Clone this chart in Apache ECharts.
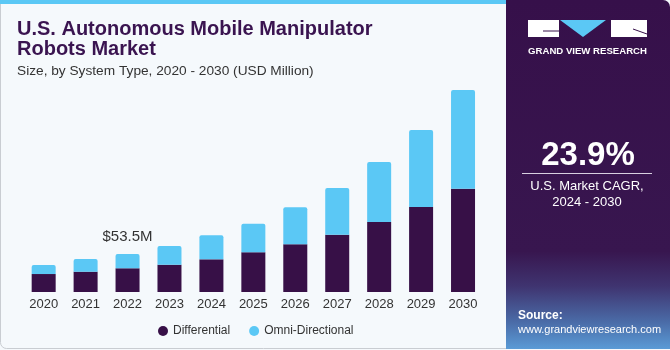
<!DOCTYPE html>
<html>
<head>
<meta charset="utf-8">
<script src="https://cdn.jsdelivr.net/npm/echarts@6/dist/echarts.min.js"></script>
<style>
html,body{margin:0;padding:0;background:#f5f9fc;}
#chart{width:670px;height:350px;}
</style>
</head>
<body>
<div id="chart"></div>
<script>
const years = ['2020','2021','2022','2023','2024','2025','2026','2027','2028','2029','2030'];
const differential = [25.3, 28.6, 33.4, 38.4, 46.0, 55.9, 67.2, 80.7, 98.6, 119.7, 145.5];
const omniDirectional = [12.7, 17.9, 20.1, 26.4, 33.8, 40.3, 52.0, 65.7, 84.4, 108.4, 138.9];
const annotationIndex = 2;
const annotationText = '$53.5M';
const titleLines = ['U.S. Autonomous Mobile Manipulator', 'Robots Market'];
const subtitle = 'Size, by System Type, 2020 - 2030 (USD Million)';
const cagr = '23.9%';
const cagrLabel = ['U.S. Market CAGR,', '2024 - 2030'];

const chart = echarts.init(document.getElementById('chart'), null, {renderer: 'canvas'});
const FONT = '"Liberation Sans", Arial, sans-serif';
const PURPLE = '#371047';
const BLUE = '#5bc8f5';

chart.setOption({
  backgroundColor: '#f5f9fc',
  animation: false,
  grid: {left: 22.7, right: 186, top: 79, bottom: 58},
  xAxis: {
    type: 'category',
    data: years,
    axisLine: {show: false},
    axisTick: {show: false},
    axisLabel: {color: '#333', fontSize: 13, fontFamily: FONT, margin: 6}
  },
  yAxis: {
    type: 'value', min: 0, max: 300,
    show: false
  },
  legend: {
    data: ['Differential', 'Omni-Directional'],
    left: 153, top: 320,
    icon: 'circle', itemWidth: 10, itemHeight: 10, itemGap: 19,
    textStyle: {color: '#333', fontSize: 12, fontFamily: FONT}
  },
  series: [
    {
      name: 'Differential', type: 'bar', stack: 'total', barWidth: 24,
      data: differential,
      itemStyle: {color: PURPLE}
    },
    {
      name: 'Omni-Directional', type: 'bar', stack: 'total', barWidth: 24,
      data: omniDirectional.map((v, i) => i === annotationIndex ? {
        value: v,
        label: {show: true, position: 'top', distance: 10, formatter: annotationText,
                color: '#333', fontSize: 15, fontFamily: FONT}
      } : v),
      itemStyle: {color: BLUE, borderRadius: [2, 2, 0, 0]}
    }
  ],
  graphic: [
    {type: 'rect', z: -10, shape: {x: 0.5, y: 0, width: 520, height: 348.5, r: [0, 0, 0, 6]},
     style: {fill: '#f5f9fc', stroke: '#c9cdd2', lineWidth: 1}},
    {type: 'rect', z: 10, shape: {x: 0, y: 0, width: 506, height: 4}, style: {fill: BLUE}},
    {type: 'rect', z: 10, shape: {x: 506, y: 0, width: 164, height: 349, r: [0, 7, 0, 0]},
     style: {fill: new echarts.graphic.LinearGradient(0, 0, 0, 1, [
       {offset: 0, color: '#36104a'},
       {offset: 0.72, color: '#38164f'},
       {offset: 0.82, color: '#3f3470'},
       {offset: 0.92, color: '#4a6aa6'},
       {offset: 1, color: '#5a9bd6'}
     ])}},
    {type: 'rect', z: 11, shape: {x: 528, y: 20, width: 31, height: 17}, style: {fill: '#fff'}},
    {type: 'polygon', z: 11, shape: {points: [[560, 20], [606, 20], [583, 37]]}, style: {fill: BLUE}},
    {type: 'rect', z: 11, shape: {x: 611, y: 20, width: 36, height: 17}, style: {fill: '#fff'}},
    {type: 'line', z: 12, shape: {x1: 543, y1: 31, x2: 559, y2: 31}, style: {stroke: '#36104a', lineWidth: 1}},
    {type: 'line', z: 12, shape: {x1: 633, y1: 29, x2: 647, y2: 34}, style: {stroke: '#36104a', lineWidth: 1}},
    {type: 'text', z: 11, x: 587.5, y: 51, style: {text: 'GRAND VIEW RESEARCH', fill: '#fff',
      font: 'bold 9.6px ' + FONT, align: 'center', verticalAlign: 'middle'}},
    {type: 'text', z: 11, x: 588, y: 156, style: {text: cagr, fill: '#fff',
      font: 'bold 33px ' + FONT, align: 'center', verticalAlign: 'middle'}},
    {type: 'line', z: 11, shape: {x1: 522, y1: 173.5, x2: 652, y2: 173.5}, style: {stroke: '#d8d0e0', lineWidth: 1}},
    {type: 'text', z: 11, x: 587, y: 186, style: {text: cagrLabel[0], fill: '#fff',
      font: '13px ' + FONT, align: 'center', verticalAlign: 'middle'}},
    {type: 'text', z: 11, x: 587, y: 202, style: {text: cagrLabel[1], fill: '#fff',
      font: '13px ' + FONT, align: 'center', verticalAlign: 'middle'}},
    {type: 'text', z: 11, x: 518, y: 316, style: {text: 'Source:', fill: '#fff',
      font: 'bold 12px ' + FONT, align: 'left', verticalAlign: 'middle'}},
    {type: 'text', z: 11, x: 518, y: 330, style: {text: 'www.grandviewresearch.com', fill: '#fff',
      font: '11px ' + FONT, align: 'left', verticalAlign: 'middle'}},
    {type: 'text', z: 11, x: 17, y: 29, style: {text: titleLines[0], fill: '#3a1450',
      font: 'bold 20px ' + FONT, align: 'left', verticalAlign: 'middle'}},
    {type: 'text', z: 11, x: 17, y: 49, style: {text: titleLines[1], fill: '#3a1450',
      font: 'bold 20px ' + FONT, align: 'left', verticalAlign: 'middle'}},
    {type: 'text', z: 11, x: 17, y: 71, style: {text: subtitle, fill: '#333',
      font: '13.7px ' + FONT, align: 'left', verticalAlign: 'middle'}}
  ]
});
</script>
</body>
</html>
